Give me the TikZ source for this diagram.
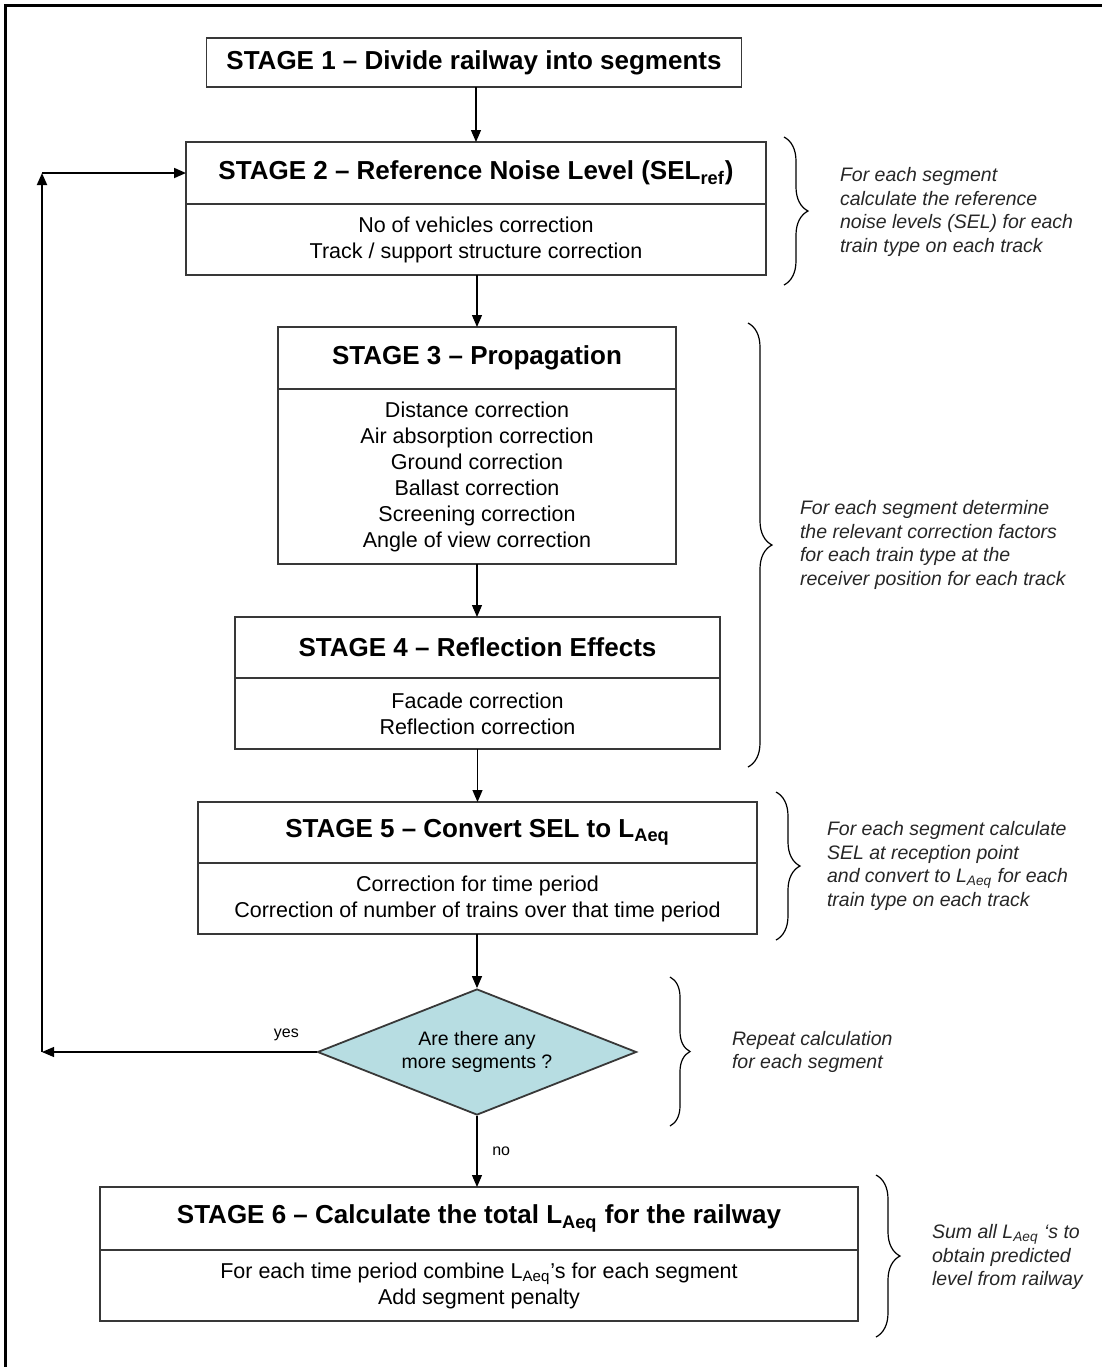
\documentclass[tikz,border=0pt]{standalone}
\usepackage{fontspec}
\setmainfont{Liberation Sans}
\usepackage{tikz}
\usetikzlibrary{arrows.meta,shapes.geometric,decorations.pathreplacing}
\definecolor{pale teal}{rgb}{0.7176, 0.8667, 0.8863}
\definecolor{box grey}{rgb}{0.22, 0.22, 0.22}

\tikzset{
	stagehead/.style={draw=box grey, line width=0.9pt, inner sep=0pt, outer sep=0pt, minimum height=31pt,
		font=\fontsize{13}{15}\selectfont\bfseries},
	stagebody/.style={draw=box grey, line width=0.9pt, inner sep=0pt, outer sep=0pt, minimum height=35.5pt,
		anchor=north, align=center, font=\fontsize{10.75}{13}\selectfont},
	note/.style={anchor=west, align=left, text=black!85,
		font=\fontsize{9.75}{11.75}\selectfont\itshape},
	flow/.style={line width=0.6pt, -{Triangle[length=6pt,width=5pt]}},
	curly/.style={decorate, decoration={brace, amplitude=12pt}, line width=0.6pt},
}

\begin{document}
\begin{tikzpicture}[x=0.5pt, y=-0.5pt]
			\useasboundingbox (0,0) rectangle (1102,1367);
			% frame
			\draw[line width=1.6pt] (5.5,1367) -- (5.5,5.5) -- (1102,5.5);
			% stages
			\node[stagehead, minimum width=267.5pt, minimum height=24.5pt] (s1) at (474,62.5)
				{STAGE 1 -- Divide railway into segments};
			\node[stagehead, minimum width=290pt] (s2) at (476,173)
				{STAGE 2 -- Reference Noise Level (SEL\textsubscript{ref})};
			\node[stagebody, minimum width=290pt] (s2b) at (s2.south)
				{No of vehicles correction\\Track / support structure correction};
			\node[stagehead, minimum width=199pt] (s3) at (477,358)
				{STAGE 3 -- Propagation};
			\node[stagebody, minimum width=199pt, minimum height=87.5pt] (s3b) at (s3.south)
				{Distance correction\\Air absorption correction\\Ground correction\\Ballast correction\\Screening correction\\Angle of view correction};
			\node[stagehead, minimum width=242.5pt, minimum height=30.5pt] (s4) at (477.5,647.5)
				{STAGE 4 -- Reflection Effects};
			\node[stagebody, minimum width=242.5pt] (s4b) at (s4.south)
				{Facade correction\\Reflection correction};
			\node[stagehead, minimum width=279.5pt, minimum height=30.5pt] (s5) at (477.5,832.5)
				{STAGE 5 -- Convert SEL to L\textsubscript{Aeq}};
			\node[stagebody, minimum width=279.5pt] (s5b) at (s5.south)
				{Correction for time period\\Correction of number of trains over that time period};
			\node[diamond, draw=box grey, line width=0.9pt, fill=pale teal, inner sep=0pt, aspect=2.5,
				minimum width=159.5pt, minimum height=63pt, align=center,
				font=\fontsize{9.75}{11.5}\selectfont] (dec) at (477,1052)
				{Are there any\\more segments ?};
			\node[stagehead, minimum width=379pt, minimum height=31.5pt] (s6) at (479,1218.5)
				{STAGE 6 -- Calculate the total L\textsubscript{Aeq} for the railway};
			\node[stagebody, minimum width=379pt] (s6b) at (s6.south)
				{For each time period combine L\textsubscript{Aeq}’s for each segment\\Add segment penalty};
			% arrows
			\draw[flow] (s1.south -| s2.north) -- (s2.north);
			\draw[flow] (s2b.south -| s3.north) -- (s3.north);
			\draw[flow] (s3b.south) -- (s3b.south |- s4.north);
			\draw[flow] (s4b.south -| s5.north) -- (s5.north);
			\draw[flow] (s5b.south -| dec.north) -- (dec.north);
			\draw[flow] (dec.south) -- (dec.south |- s6.north)
				node[pos=0.5, right=4pt, font=\fontsize{8}{9}\selectfont] (no) {no};
			% loop back
			\coordinate (lc) at (42,1052);
			\coordinate (lt) at (lc |- s2.west);
			\draw[flow] (dec.west) -- (lc)
				node[pos=0.11, above=2pt, font=\fontsize{8}{9}\selectfont] (yes) {yes};
			\draw[flow, line width=0.9pt] (lc) -- (lt);
			\draw[flow, line width=0.9pt] (lt) -- (s2.west);
			% braces and notes
			\draw[curly] (784,137) -- (784,285);
			\node[note] (n2) at (833,212)
				{For each segment\\calculate the reference\\noise levels (SEL) for each\\train type on each track};
			\draw[curly] (748,323) -- (748,767);
			\node[note] (n34) at (793,545)
				{For each segment determine\\the relevant correction factors\\for each train type at the\\receiver position for each track};
			\draw[curly] (776,792) -- (776,940);
			\node[note] (n5) at (820,866)
				{For each segment calculate\\SEL at reception point\\and convert to L\textsubscript{Aeq} for each\\train type on each track};
			\draw[curly, decoration={amplitude=10pt}] (670,977) -- (670,1126);
			\node[note] (nd) at (725,1052)
				{Repeat calculation\\for each segment};
			\draw[curly] (876,1175) -- (876,1337);
			\node[note] (n6) at (925,1257)
				{Sum all L\textsubscript{Aeq} ‘s to\\obtain predicted\\level from railway};
		\end{tikzpicture}
\end{document}
